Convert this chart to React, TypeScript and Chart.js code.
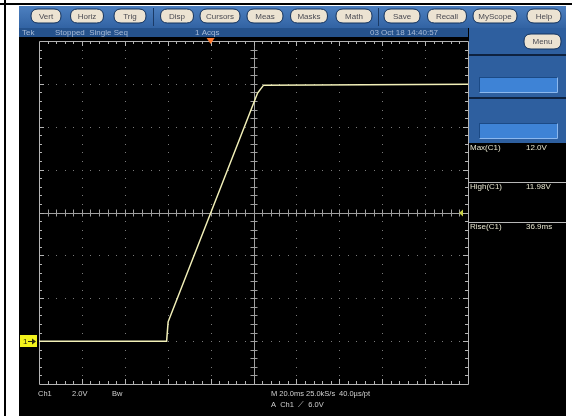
import React, { useEffect, useRef } from "react";
import { Chart, registerables } from "chart.js";
Chart.register(...registerables);

// ---- data (time in ms relative to trigger, Ch1 volts) ----
const timeMs = [-80, -20.5, -19.8, 21.9, 24.7, 120];
const ch1Volts = [0, 0, 0.9, 11.57, 11.94, 11.98];
const xTicksMs = [-80, -60, -40, -20, 0, 20, 40, 60, 80, 100, 120];
const yTicksV = [-2, 0, 2, 4, 6, 8, 10, 12, 14];
const menuButtons = ["Vert", "Horiz", "Trig", "Disp", "Cursors", "Meas", "Masks", "Math", "Save", "Recall", "MyScope", "Help"];
const statusTexts = ["Tek", "Stopped  Single Seq", "1 Acqs", "03 Oct 18 14:40:57"];
const measNames = ["Max(C1)", "High(C1)", "Rise(C1)"];
const measValues = ["12.0V", "11.98V", "36.9ms"];
const bottomLine1 = ["Ch1", "2.0V", "Bw", "M 20.0ms 25.0kS/s", "40.0µs/pt"];
const bottomLine2 = ["A  Ch1  ⟋  6.0V"];
const triggerTimeMs = 0;
const triggerLevelV = 6;
const groundV = 0;

const FONT = "'Liberation Sans', Arial, sans-serif";

function roundRect(ctx: CanvasRenderingContext2D, x: number, y: number, w: number, h: number, r: number) {
  ctx.beginPath();
  ctx.moveTo(x + r, y);
  ctx.lineTo(x + w - r, y);
  ctx.quadraticCurveTo(x + w, y, x + w, y + r);
  ctx.lineTo(x + w, y + h - r);
  ctx.quadraticCurveTo(x + w, y + h, x + w - r, y + h);
  ctx.lineTo(x + r, y + h);
  ctx.quadraticCurveTo(x, y + h, x, y + h - r);
  ctx.lineTo(x, y + r);
  ctx.quadraticCurveTo(x, y, x + r, y);
  ctx.closePath();
}

const scopePlugin = {
  id: "scope",
  beforeDraw(chart: any) {
    const ctx: CanvasRenderingContext2D = chart.ctx;
    ctx.save();
    ctx.fillStyle = "#ffffff";
    ctx.fillRect(0, 0, 572, 416);
    ctx.fillStyle = "#000";
    ctx.fillRect(0, 3, 572, 2);
    ctx.fillRect(4, 0, 2, 416);
    // screen
    ctx.fillStyle = "#000";
    ctx.fillRect(19, 6, 547, 410);
    // top button bar
    const g = ctx.createLinearGradient(0, 6, 0, 28);
    g.addColorStop(0, "#4d80c0");
    g.addColorStop(1, "#3263a3");
    ctx.fillStyle = g;
    ctx.fillRect(19, 6, 547, 22);
    // separators
    ctx.fillStyle = "#1a3a66";
    ctx.fillRect(153, 8, 1, 18);
    ctx.fillRect(378, 8, 1, 18);
    // buttons
    const centers = [46, 87, 130, 177, 220, 265, 309, 354, 402, 447, 495, 544];
    const widths = [30, 33, 32, 33, 40, 36, 37, 36, 36, 39, 44, 34];
    ctx.font = `8px ${FONT}`;
    ctx.textAlign = "center";
    ctx.textBaseline = "middle";
    menuButtons.forEach((b, i) => {
      const w = widths[i];
      const x = centers[i] - w / 2;
      roundRect(ctx, x, 9, w, 14, 7);
      ctx.fillStyle = "#ece3d2";
      ctx.fill();
      ctx.strokeStyle = "#15345e";
      ctx.lineWidth = 1;
      ctx.stroke();
      ctx.fillStyle = "#4a4a52";
      ctx.fillText(b, centers[i], 16.5);
    });
    // status bar
    ctx.fillStyle = "#25528c";
    ctx.fillRect(19, 28, 449, 9);
    ctx.fillStyle = "#a9bcd8";
    ctx.font = `8px ${FONT}`;
    ctx.textAlign = "left";
    const sx = [22, 55, 195, 370];
    statusTexts.forEach((t, i) => ctx.fillText(t, sx[i], 32.5));
    // right panel
    ctx.fillStyle = "#2e5f9f";
    ctx.fillRect(469, 28, 97, 115);
    roundRect(ctx, 524, 34, 37, 15, 7);
    ctx.fillStyle = "#ece3d2";
    ctx.fill();
    ctx.strokeStyle = "#15345e";
    ctx.stroke();
    ctx.fillStyle = "#4a4a52";
    ctx.textAlign = "center";
    ctx.font = `8px ${FONT}`;
    ctx.fillText("Menu", 542.5, 41.5);
    ctx.fillStyle = "#0e2240";
    ctx.fillRect(469, 54, 97, 2);
    ctx.fillRect(469, 97, 97, 2);
    [77, 123].forEach((y) => {
      ctx.fillStyle = "#3e83d6";
      ctx.fillRect(479, y, 79, 16);
      ctx.strokeStyle = "#1b4a86";
      ctx.strokeRect(479.5, y + 0.5, 78, 15);
      ctx.strokeStyle = "#8cb8ee";
      ctx.beginPath();
      ctx.moveTo(479.5, y + 15.5);
      ctx.lineTo(557.5, y + 15.5);
      ctx.lineTo(557.5, y + 0.5);
      ctx.stroke();
    });
    // measurements
    ctx.textAlign = "left";
    ctx.font = `8px ${FONT}`;
    const my = [148, 187, 227];
    measNames.forEach((n, i) => {
      ctx.fillStyle = "#e4e2cc";
      ctx.fillText(n, 470, my[i]);
      ctx.fillText(measValues[i], 526, my[i]);
    });
    ctx.fillStyle = "#b8b8b8";
    ctx.fillRect(469, 182, 97, 1);
    ctx.fillRect(469, 222, 97, 1);
    // bottom readouts
    ctx.fillStyle = "#cfcfcf";
    ctx.font = `7.5px ${FONT}`;
    const bx = [38, 72, 112, 271, 339];
    bottomLine1.forEach((t, i) => ctx.fillText(t, bx[i], 394));
    ctx.fillText(bottomLine2[0], 271, 405);
    ctx.restore();
  },
  beforeDatasetsDraw(chart: any) {
    const ctx: CanvasRenderingContext2D = chart.ctx;
    const xs = chart.scales.x;
    const ys = chart.scales.y;
    const L = xs.getPixelForValue(xTicksMs[0]);
    const R = xs.getPixelForValue(xTicksMs[xTicksMs.length - 1]);
    const T = ys.getPixelForValue(yTicksV[yTicksV.length - 1]);
    const B = ys.getPixelForValue(yTicksV[0]);
    const cx = xs.getPixelForValue(20);
    const cy = ys.getPixelForValue(6);
    ctx.save();
    // dotted grid
    ctx.fillStyle = "#7a7a7a";
    const xStep = (xs.getPixelForValue(xTicksMs[1]) - L) / 5;
    const yStep = (B - ys.getPixelForValue(yTicksV[1])) / 5;
    xTicksMs.slice(1, -1).forEach((t) => {
      const px = Math.round(xs.getPixelForValue(t));
      for (let k = 1; k < 40; k++) {
        ctx.fillRect(px, Math.round(T + k * yStep), 1, 1);
      }
    });
    yTicksV.slice(1, -1).forEach((v) => {
      const py = Math.round(ys.getPixelForValue(v));
      for (let k = 1; k < 50; k++) {
        ctx.fillRect(Math.round(L + k * xStep), py, 1, 1);
      }
    });
    // center cross with ticks
    ctx.strokeStyle = "#a0a0a0";
    ctx.lineWidth = 1;
    ctx.beginPath();
    ctx.moveTo(L, Math.round(cy) + 0.5);
    ctx.lineTo(R, Math.round(cy) + 0.5);
    ctx.moveTo(Math.round(cx) + 0.5, T);
    ctx.lineTo(Math.round(cx) + 0.5, B);
    for (let k = 1; k < 50; k++) {
      const px = Math.round(L + k * xStep) + 0.5;
      ctx.moveTo(px, cy - 3);
      ctx.lineTo(px, cy + 4);
    }
    for (let k = 1; k < 40; k++) {
      const py = Math.round(T + k * yStep) + 0.5;
      ctx.moveTo(cx - 3, py);
      ctx.lineTo(cx + 4, py);
    }
    ctx.stroke();
    // border with ticks
    ctx.strokeStyle = "#b4b4b4";
    ctx.beginPath();
    ctx.rect(Math.round(L) + 0.5, Math.round(T) + 0.5, Math.round(R - L), Math.round(B - T));
    for (let k = 1; k < 50; k++) {
      const px = Math.round(L + k * xStep) + 0.5;
      const len = k % 5 === 0 ? 5 : 3;
      ctx.moveTo(px, T);
      ctx.lineTo(px, T + len);
      ctx.moveTo(px, B);
      ctx.lineTo(px, B - len);
    }
    for (let k = 1; k < 40; k++) {
      const py = Math.round(T + k * yStep) + 0.5;
      const len = k % 5 === 0 ? 5 : 3;
      ctx.moveTo(L, py);
      ctx.lineTo(L + len, py);
      ctx.moveTo(R, py);
      ctx.lineTo(R - len, py);
    }
    ctx.stroke();
    ctx.restore();
  },
  afterDatasetsDraw(chart: any) {
    const ctx: CanvasRenderingContext2D = chart.ctx;
    const xs = chart.scales.x;
    const ys = chart.scales.y;
    ctx.save();
    // trigger position marker
    const tx = xs.getPixelForValue(triggerTimeMs);
    const top = chart.chartArea.top;
    ctx.fillStyle = "#ff7a2e";
    ctx.beginPath();
    ctx.moveTo(tx - 4, top - 3);
    ctx.lineTo(tx + 4, top - 3);
    ctx.lineTo(tx, top + 3);
    ctx.closePath();
    ctx.fill();
    // ground marker
    const gy = Math.round(ys.getPixelForValue(groundV));
    ctx.fillStyle = "#f2f21c";
    ctx.fillRect(20, gy - 6, 17, 12);
    ctx.fillStyle = "#2a2a10";
    ctx.font = `8px ${FONT}`;
    ctx.textAlign = "left";
    ctx.textBaseline = "middle";
    ctx.fillText("1", 23, gy + 0.5);
    ctx.fillRect(28, gy, 7, 1);
    ctx.beginPath();
    ctx.moveTo(36, gy + 0.5);
    ctx.lineTo(32, gy - 2.5);
    ctx.lineTo(32, gy + 3.5);
    ctx.closePath();
    ctx.fill();
    // trigger level marker
    const ty = ys.getPixelForValue(triggerLevelV);
    const R = chart.chartArea.right;
    ctx.fillStyle = "#c9d24a";
    ctx.beginPath();
    ctx.moveTo(R - 9, ty + 0.5);
    ctx.lineTo(R - 5, ty - 3);
    ctx.lineTo(R - 5, ty + 4);
    ctx.closePath();
    ctx.fill();
    ctx.restore();
  },
};

export default function App() {
  const ref = useRef<HTMLCanvasElement | null>(null);
  useEffect(() => {
    if (!ref.current) return;
    const chart = new Chart(ref.current, {
      type: "line",
      data: {
        datasets: [
          {
            label: "Ch1",
            data: timeMs.map((t, i) => ({ x: t, y: ch1Volts[i] })),
            borderColor: "#f2f0b8",
            borderWidth: 1.5,
            pointRadius: 0,
            tension: 0,
          },
        ],
      },
      options: {
        animation: false,
        responsive: false,
        devicePixelRatio: 1,
        layout: { padding: { left: 39, top: 41, right: 104, bottom: 32 } },
        plugins: { legend: { display: false }, tooltip: { enabled: false } },
        scales: {
          x: { type: "linear", min: xTicksMs[0], max: xTicksMs[xTicksMs.length - 1], display: false },
          y: { type: "linear", min: yTicksV[0], max: yTicksV[yTicksV.length - 1], display: false },
        },
      },
      plugins: [scopePlugin],
    });
    return () => chart.destroy();
  }, []);
  return (
    <div style={{ position: "fixed", left: 0, top: 0, width: 572, height: 416 }}>
      <canvas ref={ref} width={572} height={416} style={{ display: "block", width: 572, height: 416 }} />
    </div>
  );
}
